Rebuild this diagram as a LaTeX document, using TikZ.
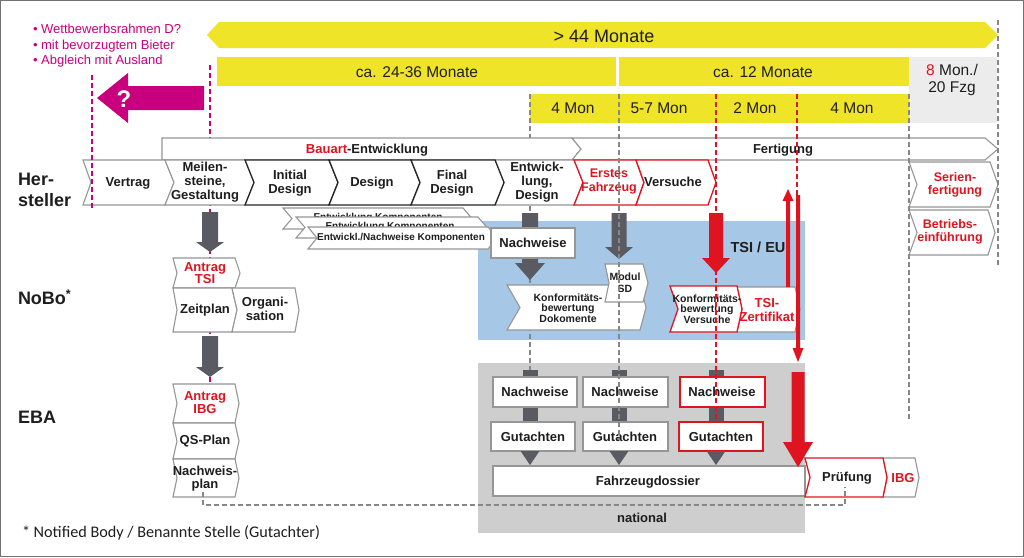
\documentclass[tikz,border=0pt]{standalone}
\usepackage{fontspec}
\setmainfont{Liberation Sans}
\newfontfamily\calfont{Carlito}
\definecolor{yel}{RGB}{240,228,40}
\definecolor{mag}{RGB}{200,0,125}
\definecolor{rd}{RGB}{222,20,32}
\definecolor{dg}{RGB}{90,90,98}
\definecolor{blu}{RGB}{166,199,230}
\definecolor{nat}{RGB}{206,206,206}
\definecolor{lg}{RGB}{236,236,236}
\definecolor{bord}{RGB}{150,150,150}
\definecolor{txt}{RGB}{30,30,30}
\definecolor{dashc}{RGB}{135,135,135}
% chevron: [style]{x1}{x2 base}{ytop}{ybot}{notch}{point}
\newcommand{\chev}[7][gb]{%
  \pgfmathsetmacro{\cvm}{(#4+#5)/2}%
  \path[#1] (#2,#4) -- (#3,#4) -- ({#3+#7},\cvm) -- (#3,#5) -- (#2,#5) -- ({#2+#6},\cvm) -- cycle;}
% block arrow: {x}{ystart}{ybase}{ytip}{half shaft}{half head}{colour}
\newcommand{\dnarr}[7]{%
  \fill[#7] ({#1-#5},#2) -- ({#1+#5},#2) -- ({#1+#5},#3) -- ({#1+#6},#3) -- (#1,#4) -- ({#1-#6},#3) -- ({#1-#5},#3) -- cycle;}
\begin{document}
\begin{tikzpicture}[x=1pt,y=-1pt,
  every node/.style={inner sep=0pt, outer sep=0pt, text=txt, align=center},
  lbl/.style={font=\fontsize{13}{14}\selectfont\bfseries},
  sml/.style={font=\fontsize{10.5}{10.5}\selectfont\bfseries},
  yl/.style={font=\fontsize{15.5}{17}\selectfont},
  big/.style={font=\fontsize{18}{21}\selectfont\bfseries, anchor=west, align=left},
  gb/.style={draw=bord, fill=white, line width=1.1pt},
  bb/.style={draw=black!85, fill=white, line width=1.3pt},
  rb/.style={draw=rd, fill=white, line width=1.3pt},
  gdash/.style={draw=dashc, line width=1.4pt, dash pattern=on 5pt off 3pt},
  rdash/.style={draw=rd, line width=1.8pt, dash pattern=on 5pt off 3pt},
  mdash/.style={draw=mag, line width=1.4pt, dash pattern=on 5pt off 3pt},
]
\useasboundingbox (0,0) rectangle (1024,557);
\fill[white] (0,0) rectangle (1024,557);
\draw[black!55, line width=1pt] (0.5,0.5) rectangle (1023.5,556.5);

% timeline bars
\fill[yel] (207,35) -- (219,22) -- (985,22) -- (998,35) -- (985,48) -- (219,48) -- cycle;
\node[font=\fontsize{18}{18}\selectfont] (m44) at (604,36) {> 44 Monate};
\fill[yel] (217,57) rectangle (616,86);
\node[yl] (m24) at (417,72) {ca. 24-36 Monate};
\fill[yel] (619,57) rectangle (909,86);
\node[yl] (m12) at (763,72) {ca. 12 Monate};
\fill[lg] (909,57) rectangle (997,123);
\node[yl, font=\fontsize{15.5}{17}\selectfont] (m8) at (952,80) {\textcolor{rd}{8} Mon./\\20 Fzg};
\fill[yel] (530,94) rectangle (909,123);
\node[yl] (r1) at (573,108) {4 Mon};
\node[yl] (r2) at (659,108) {5-7 Mon};
\node[yl] (r3) at (755,108) {2 Mon};
\node[yl] (r4) at (852,108) {4 Mon};

% magenta notes
\node[anchor=west, align=left, text=mag, font=\fontsize{13}{15.5}\selectfont] (notes) at (33,46)
  {• Wettbewerbsrahmen D?\\• mit bevorzugtem Bieter\\• Abgleich mit Ausland};
\fill[mag] (204,86) -- (128,86) -- (128,73) -- (97,98) -- (128,123) -- (128,110) -- (204,110) -- cycle;
\node[text=white, font=\fontsize{24}{24}\selectfont\bfseries] (q) at (124,99) {?};

% regions
\fill[blu] (478,221) rectangle (805,340);
\node[font=\fontsize{14.5}{16}\selectfont\bfseries] (tsieu) at (758,247) {TSI / EU};
\fill[nat] (478,363) rectangle (805,533);
\node[lbl] (nat) at (642,518) {national};

% background dashed lines
\coordinate (mt) at (210,65); \coordinate (mb) at (210,383);
\draw[mdash] (mt) -- (mb);
\coordinate (d1t) at (530,94); \coordinate (d1b) at (530,370);
\draw[gdash] (d1t) -- (d1b);

% phase bars
\chev{162}{572}{138}{160}{0}{9}
\node[lbl] (bauart) at (367,150) {\textcolor{rd}{Bauart}-Entwicklung};
\chev{572}{985}{138}{160}{9}{13}
\node[lbl] (fert) at (783,150) {Fertigung};

% Hersteller row
\chev{83}{165}{160}{205}{8}{9}
\chev{165}{245}{160}{205}{9}{9}
\chev{495}{574}{160}{205}{9}{9}
\chev[bb]{245}{329}{160}{205}{9}{9}
\chev[bb]{329}{411}{160}{205}{9}{9}
\chev[bb]{411}{495}{160}{205}{9}{9}
\chev[rb]{574}{636}{160}{205}{9}{8}
\chev[rb]{636}{708}{160}{205}{8}{8}
\node[lbl] (vertrag) at (128,183) {Vertrag};
\node[lbl] (meilen) at (205,182) {Meilen-\\steine,\\Gestaltung};
\node[lbl] (initial) at (290,183) {Initial\\Design};
\node[lbl] (design) at (372,183) {Design};
\node[lbl] (final) at (452,183) {Final\\Design};
\node[lbl] (entw) at (537,182) {Entwick-\\lung,\\Design};
\node[lbl, text=rd, font=\fontsize{12.5}{14}\selectfont\bfseries] (erstes) at (609,182) {Erstes\\Fahrzeug};
\node[lbl] (versuche) at (673,182) {Versuche};

\chev{909}{990}{162}{207}{8}{8}
\node[lbl, text=rd, font=\fontsize{12.5}{13.5}\selectfont\bfseries] (serien) at (955,185) {Serien-\\fertigung};
\chev{909}{988}{210}{255}{8}{7}
\node[lbl, text=rd, font=\fontsize{12.5}{13.5}\selectfont\bfseries] (betrieb) at (950,232) {Betriebs-\\einführung};

% stacked component chevrons
\chev{283}{463}{208}{229}{9}{9}
\node[font=\fontsize{10}{10}\selectfont\bfseries] (k1) at (378,218) {Entwicklung Komponenten};
\chev{296}{478}{217}{238}{9}{9}
\node[font=\fontsize{10}{10}\selectfont\bfseries] (k2) at (390,227) {Entwicklung Komponenten};
\chev{308}{488}{227}{249}{9}{9}
\node[font=\fontsize{10}{10}\selectfont\bfseries] (k3) at (401,238) {Entwickl./Nachweise Komponenten};

% grey block arrows
\dnarr{210}{212}{242}{252}{8}{14}{dg}
\dnarr{210}{336}{367}{377}{8}{14}{dg}
\dnarr{530}{213}{263}{280}{8}{15}{dg}
\dnarr{619}{213}{247}{259}{7.5}{14}{dg}
\dnarr{716}{213}{258}{273}{7}{14}{rd}

% NoBo
\draw[gb] (491,228) rectangle (575,258);
\node[lbl] (nwNobo) at (533,243) {Nachweise};
\chev{507}{640}{285}{330}{13}{6}
\node[sml] (konfD) at (568,308) {Konformitäts-\\bewertung\\Dokomente};
\chev{605}{643}{264}{302}{4}{5}
\node[sml, font=\fontsize{10.5}{12}\selectfont\bfseries] (modul) at (625,283) {Modul\\SD};
\chev{737}{795}{287}{332}{5}{5}
\chev[rb]{670}{737}{286}{332}{8}{5}
\node[sml] (konfV) at (707,309) {Konformitäts-\\bewertung\\Versuche};
\node[lbl, text=rd, font=\fontsize{13}{14}\selectfont\bfseries] (tsiz) at (767,310) {TSI-\\Zertifikat};

\chev{173}{235}{258}{288}{4}{5}
\node[lbl, text=rd, font=\fontsize{13}{12.5}\selectfont\bfseries] (antTSI) at (205,273) {Antrag\\TSI};
\chev{173}{232}{288}{332}{4}{5}
\chev{232}{295}{288}{332}{5}{4}
\node[lbl] (zeit) at (205,310) {Zeitplan};
\node[lbl] (orga) at (265,309) {Organi-\\sation};

% EBA
\chev{173}{235}{384}{423}{4}{4}
\node[lbl, text=rd, font=\fontsize{13}{13}\selectfont\bfseries] (antIBG) at (205,403) {Antrag\\IBG};
\chev{173}{235}{423}{459}{4}{4}
\node[lbl] (qs) at (205,441) {QS-Plan};
\chev{173}{235}{459}{497}{4}{4}
\node[lbl, font=\fontsize{13}{13}\selectfont\bfseries] (nwplan) at (205,479) {Nachweis-\\plan};

% national column connectors
\foreach \cx in {530,619,716}{
  \fill[dg] ({\cx-7.5},370) rectangle ({\cx+7.5},422);
}
\draw[gb] (493,377) rectangle (577,407);
\draw[gb] (583,377) rectangle (668,407);
\draw[rb] (680,377) rectangle (765,407);
\draw[gb] (491,422) rectangle (575,451);
\draw[gb] (583,422) rectangle (668,451);
\draw[rb] (679,422) rectangle (763,451);
\node[lbl] (n1) at (535,392) {Nachweise};
\node[lbl] (n2) at (625,392) {Nachweise};
\node[lbl] (n3) at (722,392) {Nachweise};
\node[lbl] (g1) at (533,437) {Gutachten};
\node[lbl] (g2) at (625,437) {Gutachten};
\node[lbl] (g3) at (721,437) {Gutachten};
\foreach \cx in {530,619,716}{
  \fill[dg] ({\cx-9.5},451) -- ({\cx+9.5},451) -- (\cx,465) -- cycle;
}
\draw[gb] (493,466) rectangle (805,496);
\node[lbl] (fzd) at (648,482) {Fahrzeugdossier};
\chev{883}{915}{458}{497}{4}{4}
\node[lbl, text=rd] (ibg) at (903,478) {IBG};
\chev[rb]{805}{883}{458}{497}{5}{4}
\node[lbl] (pruef) at (847,478) {Prüfung};

% red arrows
\dnarr{798}{372}{442}{467}{6.5}{15}{rd}
\dnarr{788}{287}{201}{189}{2}{5.5}{rd}
\dnarr{798}{195}{348}{362}{2}{5.5}{rd}

% foreground dashed lines
\draw[gdash] (619,94) -- (619,440);
\draw[rdash] (716,94) -- (716,420);
\draw[rdash] (797,94) -- (797,195);
\draw[gdash] (909,94) -- (909,420);
\draw[gdash] (998,20) -- (998,265);
\draw[mdash] (92,75) -- (92,208);
\coordinate (pd) at (845,487);
\draw[gdash] (nwplan.south) ++(-2,0) |- (845,505) -- (pd);

% row labels
\node[big] (herst) at (18,190) {Her-\\steller};
\node[big] (nobo) at (18,297) {NoBo\textsuperscript{*}};
\node[big] (eba) at (18,417) {EBA};
\node[anchor=west, font=\calfont\fontsize{16.2}{18}\selectfont] (foot) at (22,533) {* Notified Body / Benannte Stelle (Gutachter)};
\end{tikzpicture}
\end{document}
